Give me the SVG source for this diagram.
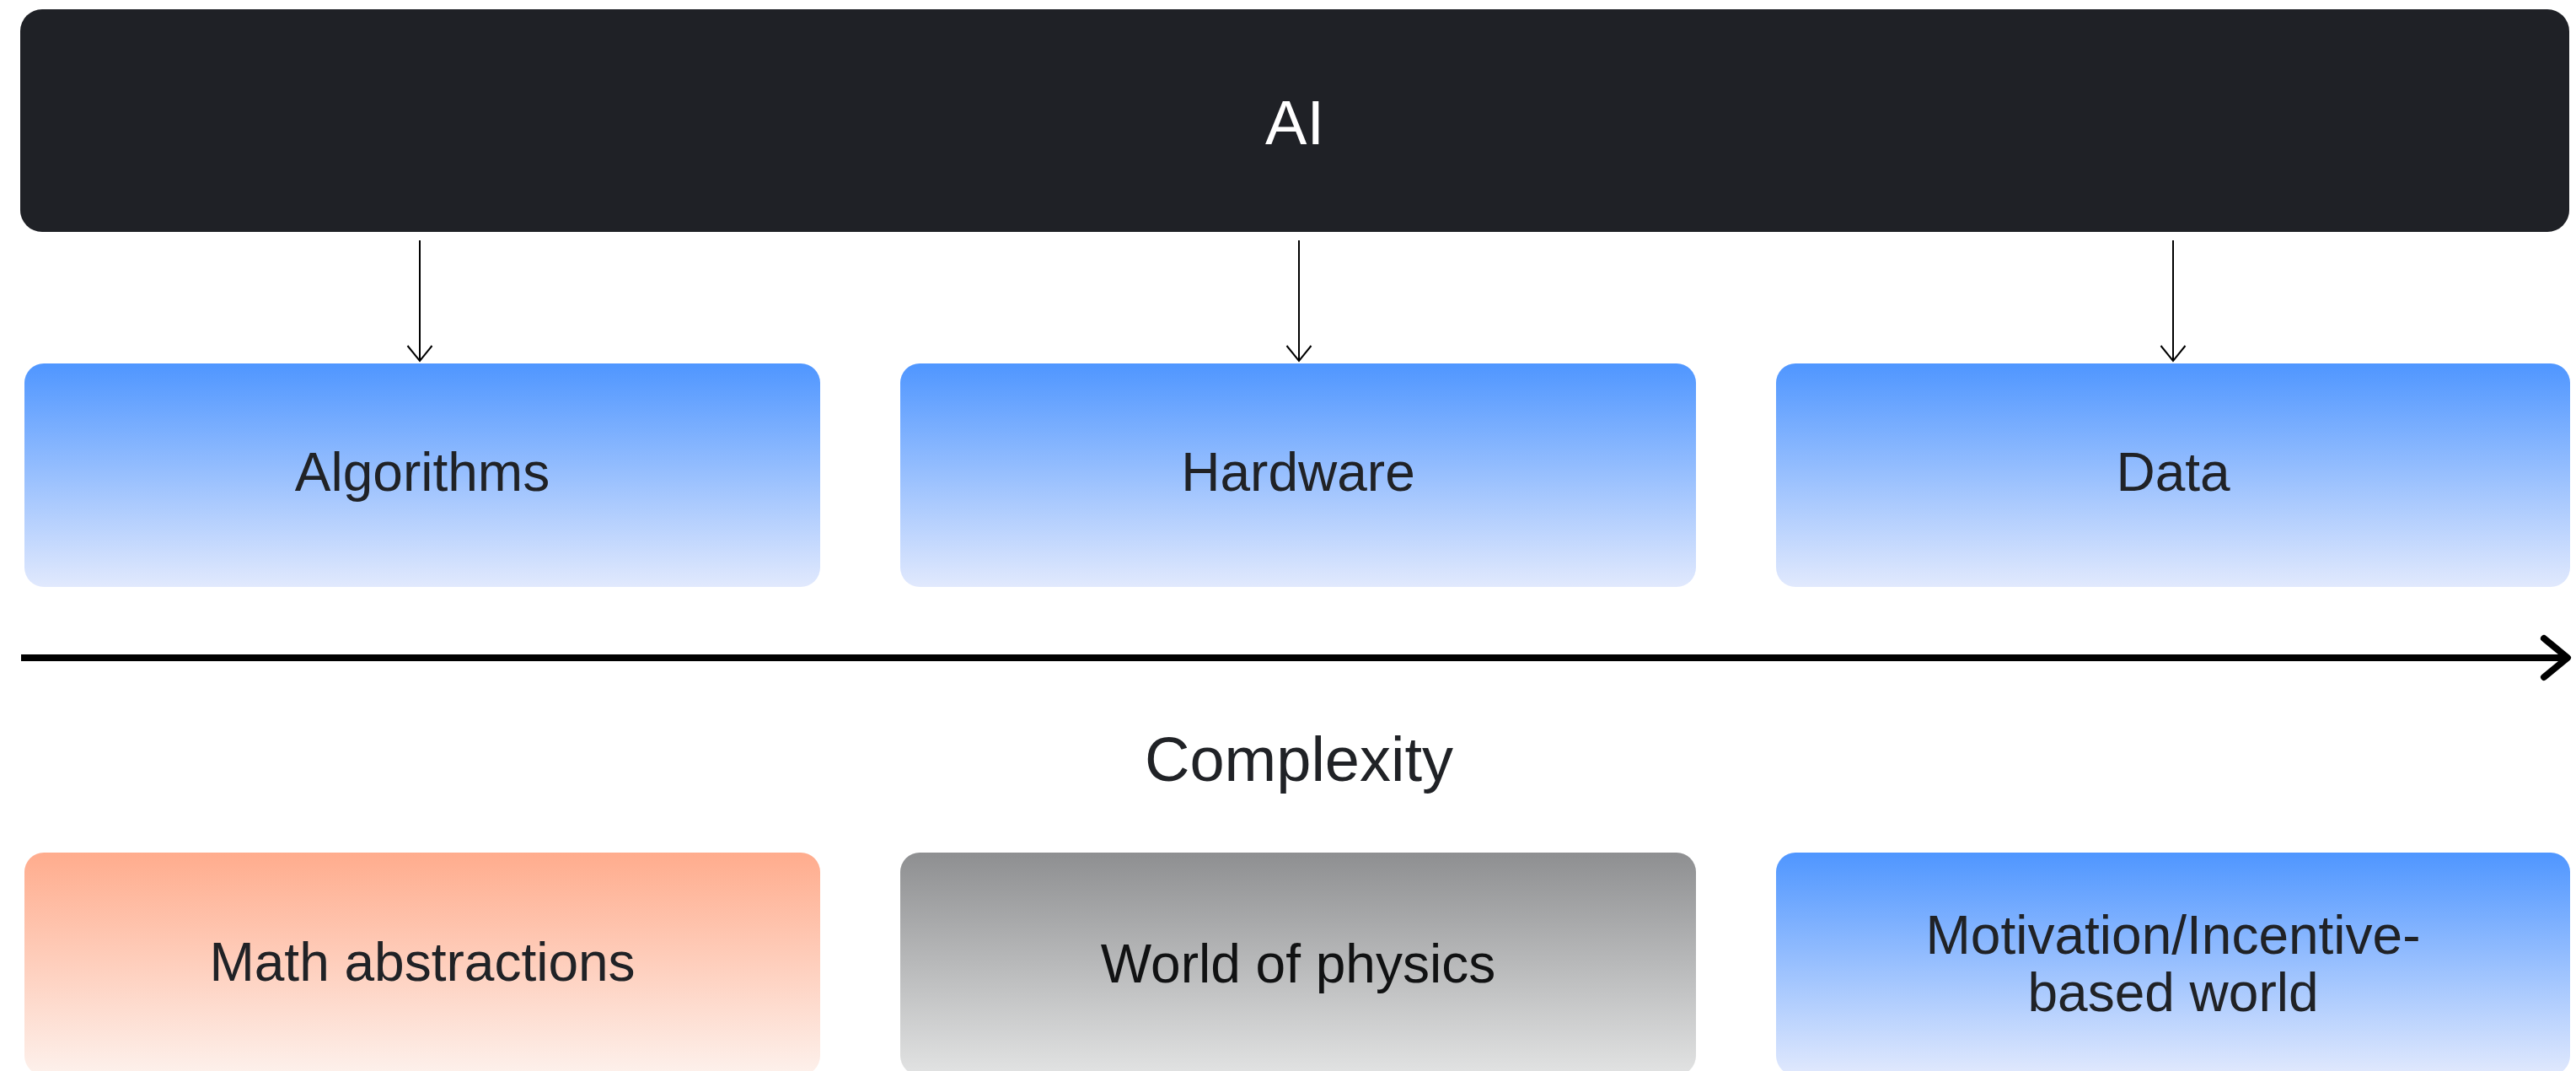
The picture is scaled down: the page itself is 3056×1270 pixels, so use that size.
<svg xmlns="http://www.w3.org/2000/svg" width="3056" height="1270" viewBox="0 0 3056 1270">
  <defs>
    <linearGradient id="gBlue" x1="0" y1="0" x2="0" y2="1">
      <stop offset="0" stop-color="#4f96ff"/>
      <stop offset="1" stop-color="#e1e9fd"/>
    </linearGradient>
    <linearGradient id="gOrange" x1="0" y1="0" x2="0" y2="1">
      <stop offset="0" stop-color="#ffac8d"/>
      <stop offset="1" stop-color="#fdf1ec"/>
    </linearGradient>
    <linearGradient id="gGray" x1="0" y1="0" x2="0" y2="1">
      <stop offset="0" stop-color="#8e8f91"/>
      <stop offset="1" stop-color="#e2e3e3"/>
    </linearGradient>
    <!-- open V head, drawn pointing along +x so orient="auto" turns it with the line -->
    <marker id="arrowThin" viewBox="0 0 22 32" refX="20" refY="16" markerWidth="22" markerHeight="32" markerUnits="userSpaceOnUse" orient="auto">
      <path d="M2,1.5 L20,16 L2,30.5" fill="none" stroke="#000" stroke-width="2"/>
    </marker>
  </defs>
  <style>
    .lbl { font-family: "Liberation Sans", Arial, sans-serif; font-size: 64px; fill: #202226; text-anchor: middle; }
    .big { font-size: 74px; }
    .wire { stroke: #000; stroke-width: 2; fill: none; }
  </style>

  <rect width="3056" height="1270" fill="#ffffff"/>

  <!-- top level -->
  <g id="ai">
    <rect x="24" y="11" width="3024" height="264" rx="26" fill="#1f2126"/>
    <text class="lbl big" x="1536" y="171" style="fill:#ffffff">AI</text>
  </g>

  <!-- middle row -->
  <g id="algorithms">
    <rect x="29" y="431" width="944" height="265" rx="23" fill="url(#gBlue)"/>
    <text class="lbl" x="501" y="582">Algorithms</text>
  </g>
  <g id="hardware">
    <rect x="1068" y="431" width="944" height="265" rx="23" fill="url(#gBlue)"/>
    <text class="lbl" x="1540" y="582">Hardware</text>
  </g>
  <g id="data">
    <rect x="2107" y="431" width="942" height="265" rx="23" fill="url(#gBlue)"/>
    <text class="lbl" x="2578" y="582">Data</text>
  </g>

  <!-- axis label -->
  <g id="complexity">
    <text class="lbl big" x="1541" y="926">Complexity</text>
  </g>

  <!-- bottom row -->
  <g id="math">
    <rect x="29" y="1011" width="944" height="264" rx="23" fill="url(#gOrange)"/>
    <text class="lbl" x="501" y="1163">Math abstractions</text>
  </g>
  <g id="physics">
    <rect x="1068" y="1011" width="944" height="264" rx="23" fill="url(#gGray)"/>
    <text class="lbl" x="1540" y="1165" style="fill:#111213">World of physics</text>
  </g>
  <g id="motivation">
    <rect x="2107" y="1011" width="942" height="264" rx="23" fill="url(#gBlue)"/>
    <text class="lbl" x="2578" y="1131">Motivation/Incentive-</text>
    <text class="lbl" x="2578" y="1199">based world</text>
  </g>

  <!-- connectors -->
  <g id="connectors">
    <line class="wire" x1="498" y1="285" x2="498" y2="428" marker-end="url(#arrowThin)"/>
    <line class="wire" x1="1541" y1="285" x2="1541" y2="428" marker-end="url(#arrowThin)"/>
    <line class="wire" x1="2578" y1="285" x2="2578" y2="428" marker-end="url(#arrowThin)"/>
    <line x1="25" y1="780" x2="3043" y2="780" stroke="#000" stroke-width="8"/>
    <polyline points="3018,757 3046,780 3018,803" fill="none" stroke="#000" stroke-width="8" stroke-linecap="round" stroke-linejoin="round"/>
  </g>
</svg>
